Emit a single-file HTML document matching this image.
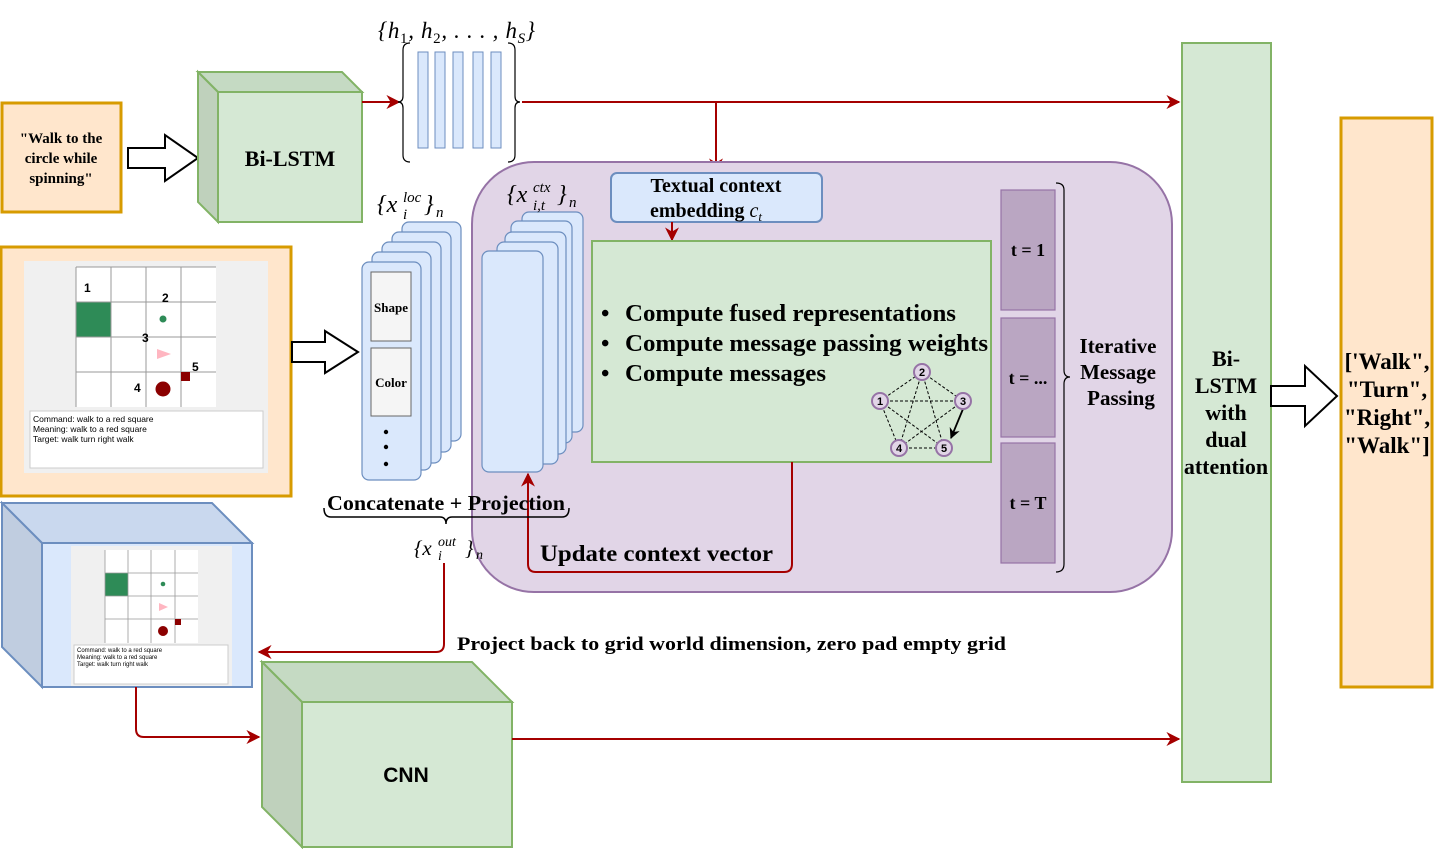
<!DOCTYPE html>
<html><head><meta charset="utf-8"><style>
html,body{margin:0;padding:0;background:#fff;width:1435px;height:849px;overflow:hidden}
svg{display:block}
.b{font-family:"Liberation Serif",serif;font-weight:bold;fill:#000}
.m{font-family:"Liberation Serif",serif;font-style:italic;fill:#000}
.s{font-family:"Liberation Sans",sans-serif;fill:#000}
</style></head><body>
<svg width="1435" height="849" viewBox="0 0 1435 849" xmlns="http://www.w3.org/2000/svg">
<defs>
<marker id="ar" viewBox="0 0 10 10" refX="9" refY="5" markerWidth="7" markerHeight="7" orient="auto"><path d="M0,0 L10,5 L0,10 L3,5 z" fill="#a50000"/></marker>
<marker id="ak" viewBox="0 0 10 10" refX="9" refY="5" markerWidth="6" markerHeight="6" orient="auto"><path d="M0,0 L10,5 L0,10 L3,5 z" fill="#000"/></marker>
</defs>

<rect x="2" y="103" width="119" height="109" fill="#ffe6cc" stroke="#d79b00" stroke-width="3"/>
<text class="b" font-size="15" text-anchor="middle"><tspan x="61" y="143">"Walk to the</tspan><tspan x="61" y="163">circle while</tspan><tspan x="61" y="183">spinning"</tspan></text>
<path d="M128,148 H165 V135 L198,158 L165,181 V168 H128 Z" fill="#fff" stroke="#000" stroke-width="2"/>

<path d="M198,72 L342,72 L362,92 L218,92 Z" fill="#c5dac3" stroke="#82b366" stroke-width="2"/>
<path d="M198,72 L218,92 L218,222 L198,202 Z" fill="#bfd1bc" stroke="#82b366" stroke-width="2"/>
<rect x="218" y="92" width="144" height="130" fill="#d5e8d4" stroke="#82b366" stroke-width="2"/>
<text class="b" x="290" y="166" font-size="22" text-anchor="middle">Bi-LSTM</text>

<line x1="362" y1="102" x2="399" y2="102" stroke="#a50000" stroke-width="2" marker-end="url(#ar)"/>
<path d="M410,43 Q403,43 403,50 V96 Q403,102 398,102 Q403,102 403,108 V155 Q403,162 410,162" fill="none" stroke="#000" stroke-width="1.2"/>
<path d="M508,43 Q515,43 515,50 V96 Q515,102 520,102 Q515,102 515,108 V155 Q515,162 508,162" fill="none" stroke="#000" stroke-width="1.2"/>
<g fill="#dae8fc" stroke="#6c8ebf" stroke-width="1">
<rect x="418" y="52" width="10" height="96"/><rect x="435" y="52" width="10" height="96"/><rect x="453" y="52" width="10" height="96"/><rect x="473" y="52" width="10" height="96"/><rect x="491" y="52" width="10" height="96"/>
</g>
<text class="m" x="378" y="38" font-size="23" textLength="157">{h<tspan font-size="15" dy="5" font-style="normal">1</tspan><tspan dy="-5">, h</tspan><tspan font-size="15" dy="5" font-style="normal">2</tspan><tspan dy="-5">, . . . , h</tspan><tspan font-size="15" dy="5">S</tspan><tspan dy="-5">}</tspan></text>

<path d="M522,102 H1179" stroke="#a50000" stroke-width="2" fill="none" marker-end="url(#ar)"/>
<path d="M716,102 V171" stroke="#a50000" stroke-width="2" fill="none" marker-end="url(#ar)"/>

<rect x="472" y="162" width="700" height="430" rx="62" fill="#e1d5e7" stroke="#9673a6" stroke-width="2"/>
<rect x="611" y="173" width="211" height="49" rx="6" fill="#dae8fc" stroke="#6c8ebf" stroke-width="2"/>
<text class="b" x="716" y="192" font-size="20" text-anchor="middle">Textual context</text>
<text class="b" x="706" y="217" font-size="20" text-anchor="middle">embedding <tspan class="m" font-weight="normal">c</tspan><tspan class="m" font-weight="normal" font-size="13" dy="4">t</tspan></text>
<path d="M672,222 V240" stroke="#a50000" stroke-width="2" fill="none" marker-end="url(#ar)"/>

<rect x="592" y="241" width="399" height="221" fill="#d5e8d4" stroke="#82b366" stroke-width="2"/>
<g class="b" font-size="24">
<text x="601" y="321">•</text><text x="625" y="321" textLength="331" lengthAdjust="spacingAndGlyphs">Compute fused representations</text>
<text x="601" y="351">•</text><text x="625" y="351" textLength="363" lengthAdjust="spacingAndGlyphs">Compute message passing weights</text>
<text x="601" y="381">•</text><text x="625" y="381" textLength="201" lengthAdjust="spacingAndGlyphs">Compute messages</text>
</g>
<g stroke="#000" stroke-width="1" stroke-dasharray="3,2">
<line x1="880" y1="401" x2="922" y2="372"/><line x1="880" y1="401" x2="963" y2="401"/><line x1="880" y1="401" x2="899" y2="448"/><line x1="880" y1="401" x2="944" y2="448"/>
<line x1="922" y1="372" x2="963" y2="401"/><line x1="922" y1="372" x2="899" y2="448"/><line x1="922" y1="372" x2="944" y2="448"/>
<line x1="963" y1="401" x2="899" y2="448"/><line x1="899" y1="448" x2="944" y2="448"/>
</g>
<line x1="963" y1="409" x2="951" y2="438" stroke="#000" stroke-width="1.8" marker-end="url(#ak)"/>
<g fill="#e1d5e7" stroke="#9673a6" stroke-width="2">
<circle cx="880" cy="401" r="8"/><circle cx="922" cy="372" r="8"/><circle cx="963" cy="401" r="8"/><circle cx="899" cy="448" r="8"/><circle cx="944" cy="448" r="8"/>
</g>
<g class="s" font-size="11" font-weight="bold" text-anchor="middle">
<text x="880" y="405">1</text><text x="922" y="376">2</text><text x="963" y="405">3</text><text x="899" y="452">4</text><text x="944" y="452">5</text>
</g>

<g fill="#dae8fc" stroke="#6c8ebf" stroke-width="1.2">
<rect x="522" y="212" width="61" height="220" rx="7"/>
<rect x="511" y="221" width="61" height="222" rx="7"/>
<rect x="505" y="232" width="61" height="222" rx="7"/>
<rect x="497" y="242" width="61" height="222" rx="7"/>
<rect x="482" y="251" width="61" height="221" rx="7"/>
</g>
<g class="m">
<text x="507" y="202" font-size="24">{x</text>
<text x="533" y="192" font-size="15">ctx</text>
<text x="533" y="210" font-size="15">i,t</text>
<text x="557" y="202" font-size="24">}</text>
<text x="569" y="207" font-size="15">n</text>
</g>

<path d="M792,462 V564 Q792,572 784,572 H536 Q528,572 528,564 V474" stroke="#a50000" stroke-width="2" fill="none" marker-end="url(#ar)"/>
<text class="b" x="540" y="561" font-size="23" textLength="233" lengthAdjust="spacingAndGlyphs">Update context vector</text>

<g fill="#baa6c2" stroke="#9673a6" stroke-width="1.2">
<rect x="1001" y="190" width="54" height="120"/><rect x="1001" y="318" width="54" height="119"/><rect x="1001" y="443" width="54" height="120"/>
</g>
<g class="b" font-size="18" text-anchor="middle"><text x="1028" y="256">t = 1</text><text x="1028" y="384">t = ...</text><text x="1028" y="509">t = T</text></g>
<path d="M1056,183 Q1064,183 1064,190 V370 Q1064,377 1070,377 Q1064,377 1064,384 V564 Q1064,572 1056,572" fill="none" stroke="#000" stroke-width="1.2"/>
<text class="b" font-size="21" text-anchor="middle"><tspan x="1118" y="353">Iterative</tspan><tspan x="1118" y="379">Message</tspan><tspan x="1121" y="405">Passing</tspan></text>

<rect x="1182" y="43" width="89" height="739" fill="#d5e8d4" stroke="#82b366" stroke-width="2"/>
<text class="b" font-size="22" text-anchor="middle"><tspan x="1226" y="366">Bi-</tspan><tspan x="1226" y="393">LSTM</tspan><tspan x="1226" y="420">with</tspan><tspan x="1226" y="447">dual</tspan><tspan x="1226" y="474">attention</tspan></text>
<path d="M1271,386 H1305 V366 L1337,396 L1305,426 V406 H1271 Z" fill="#fff" stroke="#000" stroke-width="2"/>
<rect x="1341" y="118" width="91" height="569" fill="#ffe6cc" stroke="#d79b00" stroke-width="3"/>
<text class="b" font-size="23" text-anchor="middle"><tspan x="1387" y="369">['Walk",</tspan><tspan x="1387" y="397">"Turn",</tspan><tspan x="1387" y="425">"Right",</tspan><tspan x="1387" y="453">"Walk"]</tspan></text>

<rect x="1" y="247" width="290" height="249" fill="#ffe6cc" stroke="#d79b00" stroke-width="3"/>
<rect x="24" y="261" width="244" height="212" fill="#f0f0f0"/>
<rect x="76" y="267" width="140" height="140" fill="#fff"/>
<rect x="76" y="302" width="35" height="35" fill="#2e8b57"/>
<g stroke="#999" stroke-width="1"><line x1="76" y1="267" x2="216" y2="267"/><line x1="76" y1="302" x2="216" y2="302"/><line x1="76" y1="337" x2="216" y2="337"/><line x1="76" y1="372" x2="216" y2="372"/>
<line x1="76" y1="267" x2="76" y2="407"/><line x1="111" y1="267" x2="111" y2="407"/><line x1="146" y1="267" x2="146" y2="407"/><line x1="181" y1="267" x2="181" y2="407"/></g>
<circle cx="163" cy="319" r="3.5" fill="#2e8b57"/>
<path d="M157,349 L171,354 L157,359 Z" fill="#ffb6c1"/>
<rect x="181" y="372" width="9" height="9" fill="#8b0000"/>
<circle cx="163" cy="389" r="7.5" fill="#8b0000"/>
<g class="s" font-size="12" font-weight="bold"><text x="84" y="292">1</text><text x="162" y="302">2</text><text x="142" y="342">3</text><text x="134" y="392">4</text><text x="192" y="371">5</text></g>
<rect x="30" y="411" width="233" height="57" fill="#fff" stroke="#ccc"/>
<text class="s" font-size="8.5"><tspan x="33" y="422">Command: walk to a red square</tspan><tspan x="33" y="432">Meaning:  walk to a red square</tspan><tspan x="33" y="442">Target: walk turn right walk</tspan></text>
<path d="M292,342 H325 V331 L358,352 L325,373 V362 H292 Z" fill="#fff" stroke="#000" stroke-width="2"/>

<g fill="#dae8fc" stroke="#6c8ebf" stroke-width="1.2">
<rect x="402" y="222" width="59" height="219" rx="7"/>
<rect x="392" y="232" width="59" height="220" rx="7"/>
<rect x="382" y="242" width="59" height="221" rx="7"/>
<rect x="372" y="252" width="59" height="218" rx="7"/>
<rect x="362" y="262" width="59" height="218" rx="7"/>
</g>
<rect x="371" y="272" width="40" height="69" fill="#f5f5f5" stroke="#666"/>
<rect x="371" y="348" width="40" height="68" fill="#f5f5f5" stroke="#666"/>
<text class="b" x="391" y="312" font-size="13" text-anchor="middle">Shape</text>
<text class="b" x="391" y="387" font-size="13" text-anchor="middle">Color</text>
<circle cx="386" cy="432" r="2.2"/><circle cx="386" cy="447" r="2.2"/><circle cx="386" cy="464" r="2.2"/>
<g class="m">
<text x="377" y="212" font-size="24">{x</text>
<text x="403" y="202" font-size="15">loc</text>
<text x="403" y="219" font-size="15">i</text>
<text x="424" y="212" font-size="24">}</text>
<text x="436" y="217" font-size="15">n</text>
</g>

<text class="b" x="327" y="510" font-size="21" textLength="238" lengthAdjust="spacingAndGlyphs">Concatenate + Projection</text>
<path d="M324,508 Q324,517 331,517 H440 Q446,517 446,524 Q446,517 452,517 H562 Q569,517 569,508" fill="none" stroke="#000" stroke-width="1.5"/>
<g class="m">
<text x="414" y="555" font-size="21">{x</text>
<text x="438" y="546" font-size="14">out</text>
<text x="438" y="560" font-size="14">i</text>
<text x="465" y="555" font-size="21">}</text>
<text x="476" y="559" font-size="14">n</text>
</g>

<path d="M444,563 V644 Q444,652 436,652 H259" stroke="#a50000" stroke-width="2" fill="none" marker-end="url(#ar)"/>
<text class="b" x="457" y="650" font-size="19" textLength="549" lengthAdjust="spacingAndGlyphs">Project back to grid world dimension, zero pad empty grid</text>

<path d="M2,503 L212,503 L252,543 L42,543 Z" fill="#c9d8ee" stroke="#6c8ebf" stroke-width="2"/>
<path d="M2,503 L42,543 L42,687 L2,647 Z" fill="#c0cde0" stroke="#6c8ebf" stroke-width="2"/>
<rect x="42" y="543" width="210" height="144" fill="#dae8fc" stroke="#6c8ebf" stroke-width="2"/>
<rect x="71" y="546" width="161" height="140" fill="#f0f0f0"/>
<rect x="105" y="550" width="93" height="93" fill="#fff"/>
<rect x="105" y="573" width="23" height="23" fill="#2e8b57"/>
<g stroke="#999" stroke-width="0.8"><line x1="105" y1="573" x2="198" y2="573"/><line x1="105" y1="596" x2="198" y2="596"/><line x1="105" y1="619" x2="198" y2="619"/>
<line x1="105" y1="550" x2="105" y2="643"/><line x1="128" y1="550" x2="128" y2="643"/><line x1="151" y1="550" x2="151" y2="643"/><line x1="175" y1="550" x2="175" y2="643"/></g>
<circle cx="163" cy="584" r="2.3" fill="#2e8b57"/>
<path d="M159,603 L168,607 L159,611 Z" fill="#ffb6c1"/>
<rect x="175" y="619" width="6" height="6" fill="#8b0000"/>
<circle cx="163" cy="631" r="5" fill="#8b0000"/>
<rect x="74" y="645" width="154" height="39" fill="#fff" stroke="#ccc"/>
<text class="s" font-size="6"><tspan x="77" y="652">Command: walk to a red square</tspan><tspan x="77" y="659">Meaning:  walk to a red square</tspan><tspan x="77" y="666">Target: walk turn right walk</tspan></text>

<path d="M136,687 V729 Q136,737 144,737 H259" stroke="#a50000" stroke-width="2" fill="none" marker-end="url(#ar)"/>

<path d="M262,662 L472,662 L512,702 L302,702 Z" fill="#c5dac3" stroke="#82b366" stroke-width="2"/>
<path d="M262,662 L302,702 L302,847 L262,807 Z" fill="#bfd1bc" stroke="#82b366" stroke-width="2"/>
<rect x="302" y="702" width="210" height="145" fill="#d5e8d4" stroke="#82b366" stroke-width="2"/>
<text class="s" x="406" y="782" font-size="21" font-weight="bold" text-anchor="middle">CNN</text>
<path d="M512,739 H1179" stroke="#a50000" stroke-width="2" fill="none" marker-end="url(#ar)"/>
</svg>
</body></html>
